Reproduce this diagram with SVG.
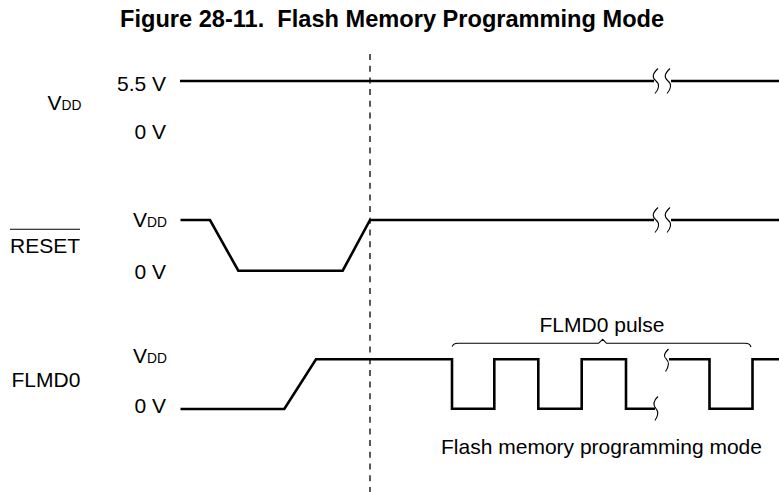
<svg xmlns="http://www.w3.org/2000/svg" width="779" height="492" viewBox="0 0 779 492">
<defs>
<style>
.t{font-family:"Liberation Sans",Arial,sans-serif;font-size:21px;fill:#000}
.title{font-family:"Liberation Sans",Arial,sans-serif;font-size:23.6px;font-weight:bold;fill:#000;white-space:pre}
.sub{font-size:13.8px}
.sig{fill:none;stroke:#000;stroke-width:2.6;stroke-linejoin:miter}
.brk{fill:none;stroke:#000;stroke-width:1.1}
.thin{fill:none;stroke:#000;stroke-width:1.1}
.dash{fill:none;stroke:#000;stroke-width:1.3;stroke-dasharray:6 5.7}
</style>
</defs>
<rect width="779" height="492" fill="#fff"/>
<text class="title" x="120" y="26.5" xml:space="preserve">Figure 28-11.  Flash Memory Programming Mode</text>

<g id="vdd-signal">
<text class="t" x="47.5" y="110">V<tspan class="sub">DD</tspan></text>
<text class="t" x="166" y="91" text-anchor="end">5.5 V</text>
<text class="t" x="166" y="139" text-anchor="end">0 V</text>
<path class="sig" d="M180,81 H654 M671,81 H779"/>
<path class="brk" d="M658,68.5 C652,74 652,78 656,81 C660,84 659,89 655,93.5"/>
<path class="brk" d="M670,68.5 C664,74 664,78 668,81 C672,84 671,89 667,93.5"/>
</g>

<g id="reset-signal">
<text class="t" x="10" y="252.5">RESET</text>
<line class="thin" x1="10" y1="229.3" x2="80" y2="229.3"/>
<text class="t" x="167" y="226.7" text-anchor="end">V<tspan class="sub">DD</tspan></text>
<text class="t" x="166" y="279" text-anchor="end">0 V</text>
<path class="sig" d="M180.5,220 H210 L238.3,270.7 H342.7 L370,220 H654 M671,220 H779"/>
<path class="brk" d="M658,207.5 C652,213 652,217 656,220 C660,223 659,228 655,232.5"/>
<path class="brk" d="M670,207.5 C664,213 664,217 668,220 C672,223 671,228 667,232.5"/>
</g>

<g id="flmd0-signal">
<text class="t" x="11.5" y="386.7">FLMD0</text>
<text class="t" x="167" y="363.3" text-anchor="end">V<tspan class="sub">DD</tspan></text>
<text class="t" x="166" y="413.3" text-anchor="end">0 V</text>
<path class="sig" d="M180.5,409 H284.3 L316,359.3 H452 V408.7 H494.3 V359.3 H538.3 V408.7 H581.7 V359.3 H626 V408.7 H655"/>
<path class="sig" d="M669,359.3 H709.5 V408.7 H752.5 V359.3 H779"/>
<path class="brk" d="M658,396.5 C653,401 653,405 656,408.7 C659,412 658,416 655,420.5"/>
<path class="brk" d="M668.5,349 C663.5,354 663.5,357 666.5,359.3 C669.5,362 668.5,367 665.5,371.5"/>
</g>

<g id="flmd0-pulse-label">
<path class="thin" d="M452.3,346.7 Q453,343.3 458,343.3 H598.5 L602.7,339.3 L606.5,343.3 H745 Q750,343.3 751,347"/>
<text class="t" x="602" y="331.7" text-anchor="middle">FLMD0 pulse</text>
</g>

<g id="connectors">
<line class="dash" x1="370" y1="54" x2="370" y2="492"/>
</g>

<text class="t" x="601.5" y="454" text-anchor="middle">Flash memory programming mode</text>
</svg>
